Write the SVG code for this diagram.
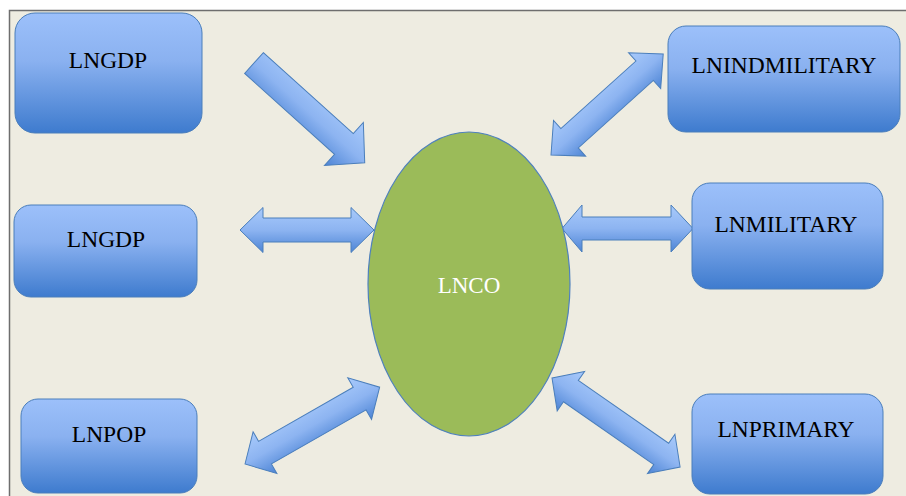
<svg xmlns="http://www.w3.org/2000/svg" width="906" height="496" viewBox="0 0 906 496">
<defs>
<linearGradient id="boxg" x1="0" y1="0" x2="0" y2="1">
<stop offset="0" stop-color="#9CC0FA"/>
<stop offset="0.4" stop-color="#8AB1F0"/>
<stop offset="1" stop-color="#3E7BCE"/>
</linearGradient>
<linearGradient id="arrg" x1="0" y1="0" x2="0" y2="1">
<stop offset="0" stop-color="#A8CAFB"/>
<stop offset="0.5" stop-color="#8DB4F1"/>
<stop offset="1" stop-color="#4C84D5"/>
</linearGradient>
<style>
.box{fill:url(#boxg);stroke:#4A7EBB;stroke-width:1}
.lbl{font-family:"Liberation Serif","Times New Roman",serif;font-size:23.5px;fill:#000;text-anchor:middle}
.arr{fill:url(#arrg);stroke:#4A7EBB;stroke-width:1;stroke-linejoin:miter}
</style>
</defs>
<rect x="0" y="0" width="906" height="496" fill="#FFFFFF"/>
<rect x="9.5" y="10.5" width="900" height="490" fill="#EEECE1" stroke="#6E6E6E" stroke-width="1.5"/>

<g id="connectors">
<polygon class="arr" transform="translate(254,63) rotate(42)" points="0,-14 121,-14 121,-29 149,0 121,29 121,14 0,14"/>
<polygon class="arr" transform="translate(240,230)" points="0,0 23,-22.5 23,-12 111,-12 111,-22.5 134,0 111,22.5 111,12 23,12 23,22.5"/>
<polygon class="arr" transform="translate(245,464) rotate(-29.7)" points="0,0 23,-24 23,-13 132,-13 132,-24 155,0 132,24 132,13 23,13 23,24"/>
<polygon class="arr" transform="translate(551,155) rotate(-42)" points="0,0 25,-24 25,-13 126,-13 126,-24 151,0 126,24 126,13 25,13 25,24"/>
<polygon class="arr" transform="translate(562,228.5)" points="0,0 20,-23.5 20,-11.5 109,-11.5 109,-23.5 131,0 109,23.5 109,11.5 20,11.5 20,23.5"/>
<polygon class="arr" transform="translate(552,378) rotate(34.8)" points="0,0 23,-24 23,-13 133,-13 133,-24 156,0 133,24 133,13 23,13 23,24"/>
</g>

<g id="lnco">
<ellipse cx="469" cy="284" rx="101" ry="152" fill="#9BBB59" stroke="#4F81BD" stroke-width="1.2"/>
<text x="469" y="293" class="lbl" style="fill:#FFFFFF;font-size:23px">LNCO</text>
</g>

<g id="lngdp1">
<rect class="box" x="15" y="13" width="187" height="120" rx="20"/>
<text class="lbl" x="108" y="68">LNGDP</text>
</g>
<g id="lngdp2">
<rect class="box" x="14" y="205" width="183" height="92" rx="17"/>
<text class="lbl" x="106" y="247">LNGDP</text>
</g>
<g id="lnpop">
<rect class="box" x="21" y="399" width="176" height="94" rx="17"/>
<text class="lbl" x="109" y="442">LNPOP</text>
</g>
<g id="lnindmilitary">
<rect class="box" x="668" y="26" width="232" height="106" rx="18"/>
<text class="lbl" x="784" y="73">LNINDMILITARY</text>
</g>
<g id="lnmilitary">
<rect class="box" x="692" y="183" width="191" height="106" rx="18"/>
<text class="lbl" x="786" y="232">LNMILITARY</text>
</g>
<g id="lnprimary">
<rect class="box" x="692" y="394" width="191" height="100" rx="18"/>
<text class="lbl" x="786" y="437">LNPRIMARY</text>
</g>
</svg>
